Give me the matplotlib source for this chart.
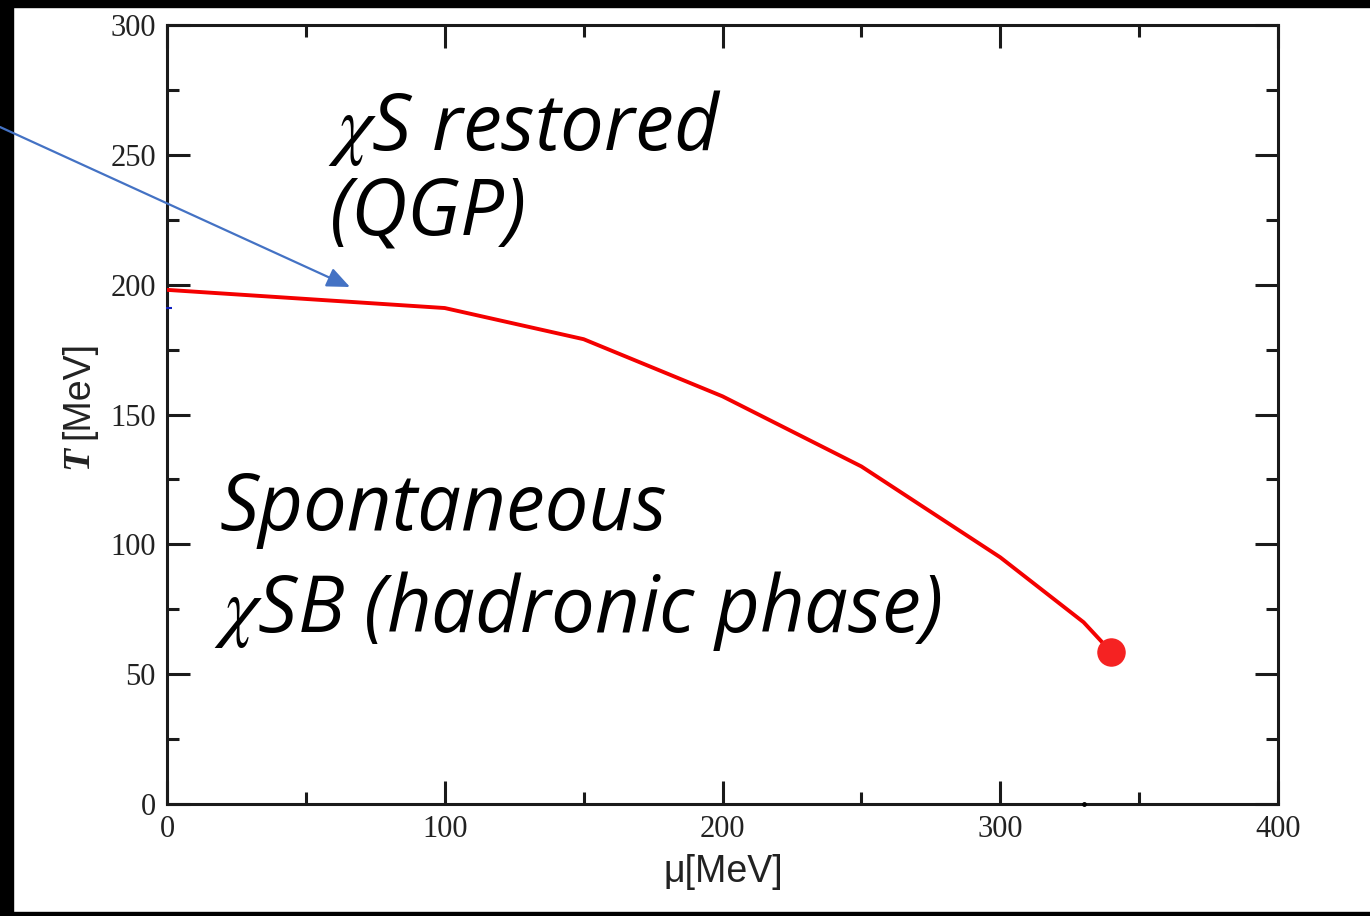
import matplotlib
matplotlib.use("Agg")
import matplotlib.pyplot as plt
from matplotlib.patches import Rectangle, FancyArrowPatch
from matplotlib.ticker import MultipleLocator

# Chiral phase boundary: chemical potential mu [MeV] vs. temperature T [MeV]
mu_values = [0, 100, 150, 200, 250, 300, 330, 340]
t_values = [198, 191, 179, 157, 130, 95, 70, 58.5]
critical_point = (340, 58.5)

x_ticks = [0, 100, 200, 300, 400]
y_ticks = [0, 50, 100, 150, 200, 250, 300]

W, H = 1370, 916
fig = plt.figure(figsize=(W / 100, H / 100), dpi=100)
fig.patch.set_facecolor("white")

def fx(px):
    return px / W

def fy(py):
    return 1 - py / H

ax = fig.add_axes([fx(167), fy(804), fx(1278) - fx(167), fy(25) - fy(804)])
ax.set_xlim(0, 400)
ax.set_ylim(0, 300)

ax.plot(mu_values, t_values, color="#f40000", lw=2.8, solid_capstyle="round", zorder=3)
ax.plot([critical_point[0]], [critical_point[1]], "o", color="#f52222", ms=19.5, zorder=4)

# small marks on the axes
ax.plot([0.6], [191], marker="_", color="#1020c0", ms=5, mew=1.5, clip_on=False, zorder=5)
ax.plot([330], [0], marker="o", color="black", ms=2.5, clip_on=False, zorder=5)

ax.set_xticks(x_ticks)
ax.set_yticks(y_ticks)
ax.xaxis.set_minor_locator(MultipleLocator(50))
ax.yaxis.set_minor_locator(MultipleLocator(25))
ax.tick_params(which="both", direction="in", top=True, right=True, width=2.2, colors="#1a1a1a")
ax.tick_params(which="major", length=16.5, pad=8)
ax.tick_params(which="minor", length=8.5)
for lab in ax.get_xticklabels() + ax.get_yticklabels():
    lab.set_fontfamily("Liberation Serif")
    lab.set_fontsize(22)
    lab.set_color("#222222")
for sp in ax.spines.values():
    sp.set_linewidth(2.2)
    sp.set_color("#1a1a1a")

# axis titles
fig.text(fx(723), fy(882), "\u03bc[MeV]", family="Liberation Sans", fontsize=27,
         ha="center", va="baseline", color="#222222")
fig.text(fx(78), fy(458), "T", family="Liberation Serif", fontsize=27, fontweight="bold",
         style="italic", rotation=90, ha="center", va="center", color="#222222")
fig.text(fx(78), fy(390), "[MeV]", family="Liberation Sans", fontsize=27,
         rotation=90, ha="center", va="center", color="#222222")

# phase labels
plt.rcParams["mathtext.fontset"] = "stix"
lab_kw = dict(family="Open Sans", style="italic", fontsize=56, color="black",
              ha="left", va="baseline")
fig.text(fx(328), fy(150), r"$\chi$S restored", **lab_kw)
fig.text(fx(330), fy(234), "(QGP)", **lab_kw)
fig.text(fx(220), fy(530), "Spontaneous", **lab_kw)
fig.text(fx(214), fy(632), r"$\chi$SB (hadronic phase)", **lab_kw)

# frame bars
fig.add_artist(Rectangle((0, 0), fx(13), 1, transform=fig.transFigure, color="black", zorder=10))
fig.add_artist(Rectangle((0, fy(7)), 1, 7 / H, transform=fig.transFigure, color="black", zorder=10))
fig.add_artist(Rectangle((0, 0), 1, 4 / H, transform=fig.transFigure, color="black", zorder=10))

# pointer arrow
fig.add_artist(FancyArrowPatch(
    (fx(0), fy(127)), (fx(350), fy(287)), transform=fig.transFigure,
    arrowstyle="-|>,head_length=14,head_width=6", mutation_scale=1.0,
    color="#4472c4", lw=1.6, zorder=11, shrinkA=0, shrinkB=0))

fig.savefig("out.png", dpi=100)
